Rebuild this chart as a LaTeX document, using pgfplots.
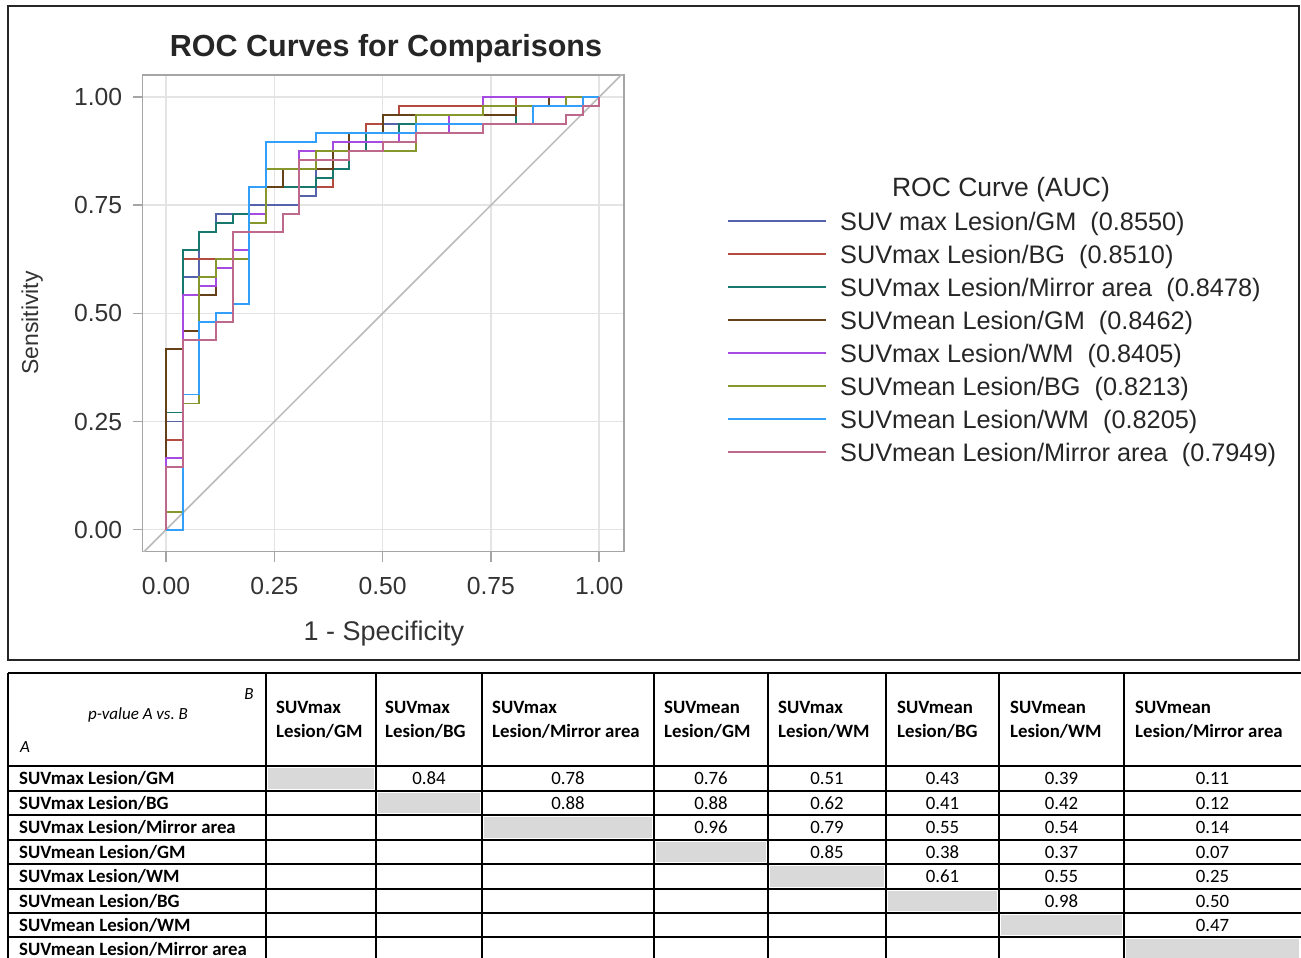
\documentclass[border=0pt]{standalone}
\usepackage{fontspec}
\setmainfont{Liberation Sans}
\newfontfamily\tabfont{Carlito}
\usepackage{pgfplots}
\usepackage{pgfplotstable}
\pgfplotsset{compat=1.18}

\definecolor{c1}{RGB}{85,100,170}
\definecolor{c2}{RGB}{180,75,65}
\definecolor{c3}{RGB}{25,120,110}
\definecolor{c4}{RGB}{100,65,25}
\definecolor{c5}{RGB}{165,75,225}
\definecolor{c6}{RGB}{135,150,45}
\definecolor{c7}{RGB}{50,160,250}
\definecolor{c8}{RGB}{190,105,140}
\definecolor{gridc}{RGB}{228,228,228}
\definecolor{framec}{RGB}{165,165,165}
\definecolor{tabgray}{RGB}{217,217,217}

% ROC curves: i = false-positive step (of 26), j = true-positive step (of 48)
\pgfplotstableread{
i j
0 0
0 12
1 28
2 33
3 35
5 36
8 37
9 40
10 42
11 43
12 45
17 46
19 48
26 48
}\tGM
\pgfplotstableread{
i j
0 0
0 10
1 30
5 35
6 38
10 42
11 44
12 45
13 46
14 47
21 48
26 48
}\tBG
\pgfplotstableread{
i j
0 0
0 13
1 31
2 33
3 34
4 35
5 38
9 39
10 40
11 42
12 44
14 45
21 47
24 48
26 48
}\tMir
\pgfplotstableread{
i j
0 0
0 20
1 22
2 26
3 30
5 34
6 38
7 40
10 42
11 44
13 46
21 47
23 48
26 48
}\tmGM
\pgfplotstableread{
i j
0 0
0 8
1 26
2 27
3 29
4 31
5 35
6 40
8 42
10 43
14 44
17 46
19 48
26 48
}\tWM
\pgfplotstableread{
i j
0 0
0 2
1 14
2 28
3 30
5 34
6 40
9 42
15 46
19 47
24 48
26 48
}\tmBG
\pgfplotstableread{
i j
0 0
1 15
2 23
3 24
4 25
5 38
6 43
9 44
15 45
22 47
25 48
26 48
}\tmWM
\pgfplotstableread{
i j
0 0
0 7
1 21
3 23
4 33
7 35
8 41
11 42
13 43
15 44
19 45
24 46
25 47
26 48
}\tmMir

\begin{document}
\begin{tikzpicture}[x=1pt,y=1pt]
\path[use as bounding box] (0,0) rectangle (1301,-958);
\draw[black!85, line width=1.2pt] (8,-6) rectangle (1299,-660);

\begin{axis}[
  at={(142.7pt,-551.7pt)}, anchor=south west,
  scale only axis, width=481.3pt, height=476.7pt,
  xmin=-0.0538, xmax=1.0572, ymin=-0.0508, ymax=1.0508,
  xtick={0,0.25,0.5,0.75,1}, ytick={0,0.25,0.5,0.75,1},
  xtick pos=bottom, ytick pos=left,
  grid=major, grid style={gridc, line width=1.5pt},
  axis line style={framec, line width=1.5pt},
  tick style={framec, line width=1.5pt},
  tick align=outside, major tick length=10pt,
  tick label style={font=\fontsize{24.7}{29}\selectfont, text=black!80},
  xticklabel style={yshift=-12pt},
  yticklabel style={xshift=-7pt},
  /pgf/number format/.cd, fixed, fixed zerofill, precision=2, assume math mode=true,
]
\addplot[color=gray!55, line width=1.5pt] coordinates {(-0.06,-0.06) (1.07,1.07)};
\addplot[const plot, c1, line width=1.9pt] table[x expr=\thisrow{i}/26, y expr=\thisrow{j}/48] {\tGM};
\addplot[const plot, c2, line width=1.9pt] table[x expr=\thisrow{i}/26, y expr=\thisrow{j}/48] {\tBG};
\addplot[const plot, c3, line width=1.9pt] table[x expr=\thisrow{i}/26, y expr=\thisrow{j}/48] {\tMir};
\addplot[const plot, c4, line width=1.9pt] table[x expr=\thisrow{i}/26, y expr=\thisrow{j}/48] {\tmGM};
\addplot[const plot, c5, line width=1.9pt] table[x expr=\thisrow{i}/26, y expr=\thisrow{j}/48] {\tWM};
\addplot[const plot, c6, line width=1.9pt] table[x expr=\thisrow{i}/26, y expr=\thisrow{j}/48] {\tmBG};
\addplot[const plot, c7, line width=1.9pt] table[x expr=\thisrow{i}/26, y expr=\thisrow{j}/48] {\tmWM};
\addplot[const plot, c8, line width=1.9pt] table[x expr=\thisrow{i}/26, y expr=\thisrow{j}/48] {\tmMir};
\end{axis}

% titles and axis labels
\node[anchor=base, font=\bfseries\fontsize{30.5}{36}\selectfont, text=black!85] at (386,-57) {ROC Curves for Comparisons};
\node[anchor=base, font=\fontsize{27}{32}\selectfont, text=black!80] at (384,-640.7) {1 - Specificity};
\node[anchor=base, rotate=90, font=\fontsize{23}{28}\selectfont, text=black!80] at (38.2,-323) {Sensitivity};

% legend
\node[anchor=base, font=\fontsize{26.5}{31}\selectfont, text=black!85] at (1001,-196.5) {ROC Curve (AUC)};
\foreach \k/\c/\t in {0/c1/{SUV max Lesion/GM\ \ (0.8550)},
                      1/c2/{SUVmax Lesion/BG\ \ (0.8510)},
                      2/c3/{SUVmax Lesion/Mirror area\ \ (0.8478)},
                      3/c4/{SUVmean Lesion/GM\ \ (0.8462)},
                      4/c5/{SUVmax Lesion/WM\ \ (0.8405)},
                      5/c6/{SUVmean Lesion/BG\ \ (0.8213)},
                      6/c7/{SUVmean Lesion/WM\ \ (0.8205)},
                      7/c8/{SUVmean Lesion/Mirror area\ \ (0.7949)}} {
  \draw[\c, line width=1.9pt] (728,-221-33*\k) -- (826,-221-33*\k);
  \node[anchor=base west, inner sep=0pt, font=\fontsize{25.3}{30}\selectfont, text=black!85] at (840,-230-33*\k) {\t};
}

% table: gray diagonal cells
\foreach \l/\r/\t/\b in {266/376/766/791, 376/482/791/815, 482/654/815/840, 654/768/840/864,
                         768/886/864/889, 886/999/889/913, 999/1124/913/937, 1124/1301/937/962} {
  \fill[tabgray] (\l+2,-\t-2) rectangle (\r-2,-\b+2);
}
% table lines
\foreach \y in {673,766,791,815,840,864,889,913,937} {
  \draw[black, line width=1.5pt] (8,-\y) -- (1301,-\y);
}
\foreach \x in {8,266,376,482,654,768,886,999,1124} {
  \draw[black, line width=1.5pt] (\x,-673) -- (\x,-962);
}

% header
\node[anchor=base, font=\tabfont\itshape\fontsize{17}{20}\selectfont] at (138,-719) {p-value A vs.\ B};
\node[anchor=base, font=\tabfont\itshape\fontsize{17}{20}\selectfont] at (249,-699) {B};
\node[anchor=base west, font=\tabfont\itshape\fontsize{17}{20}\selectfont, inner sep=0pt] at (20,-752) {A};
\foreach \x/\a in {276/SUVmax, 385/SUVmax, 492/SUVmax, 664/SUVmean, 778/SUVmax, 897/SUVmean, 1010/SUVmean, 1135/SUVmean} {
  \node[anchor=base west, inner sep=0pt, font=\tabfont\bfseries\fontsize{18.8}{22}\selectfont] at (\x,-713) {\a};
}
\foreach \x/\b in {276/{Lesion/GM}, 385/{Lesion/BG}, 492/{Lesion/Mirror area},
                   664/{Lesion/GM}, 778/{Lesion/WM}, 897/{Lesion/BG},
                   1010/{Lesion/WM}, 1135/{Lesion/Mirror area}} {
  \node[anchor=base west, inner sep=0pt, font=\tabfont\bfseries\fontsize{18.8}{22}\selectfont] at (\x,-737) {\b};
}
% row labels
\foreach \y/\t in {778.5/{SUVmax Lesion/GM}, 803/{SUVmax Lesion/BG}, 827.5/{SUVmax Lesion/Mirror area},
                   852/{SUVmean Lesion/GM}, 876.5/{SUVmax Lesion/WM}, 901/{SUVmean Lesion/BG},
                   925/{SUVmean Lesion/WM}, 949.5/{SUVmean Lesion/Mirror area}} {
  \node[anchor=base west, inner sep=0pt, font=\tabfont\bfseries\fontsize{18.8}{22}\selectfont] at (19,-\y-6) {\t};
}
% p-values
\foreach \x/\y/\v in {429/778.5/0.84, 568/778.5/0.78, 711/778.5/0.76, 827/778.5/0.51, 942.5/778.5/0.43, 1061.5/778.5/0.39, 1212.5/778.5/0.11,
                      568/803/0.88, 711/803/0.88, 827/803/0.62, 942.5/803/0.41, 1061.5/803/0.42, 1212.5/803/0.12,
                      711/827.5/0.96, 827/827.5/0.79, 942.5/827.5/0.55, 1061.5/827.5/0.54, 1212.5/827.5/0.14,
                      827/852/0.85, 942.5/852/0.38, 1061.5/852/0.37, 1212.5/852/0.07,
                      942.5/876.5/0.61, 1061.5/876.5/0.55, 1212.5/876.5/0.25,
                      1061.5/901/0.98, 1212.5/901/0.50,
                      1212.5/925/0.47} {
  \node[inner sep=0pt, font=\tabfont\fontsize{18.8}{22}\selectfont] at (\x,-\y) {\v};
}
\end{tikzpicture}
\end{document}
